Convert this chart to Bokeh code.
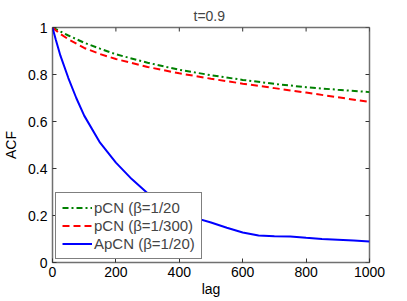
import math
from bokeh.plotting import figure
from bokeh.models import Range1d, FixedTicker
from bokeh.embed import file_html
from bokeh.resources import INLINE

# ---- data ----
lag_pcn = [0, 25, 50, 100, 150, 200, 300, 400, 500, 600, 700, 800, 900, 1000]
acf_pcn_20 = [1.0, 0.983, 0.966, 0.935, 0.91, 0.886, 0.85, 0.82, 0.797, 0.777, 0.76, 0.746, 0.735, 0.725]
acf_pcn_300 = [1.0, 0.972, 0.95, 0.913, 0.887, 0.866, 0.832, 0.805, 0.782, 0.761, 0.742, 0.723, 0.703, 0.683]

lag_apcn = [0, 10, 25, 50, 75, 100, 150, 200, 250, 300, 350, 400, 450, 500,
            550, 600, 650, 700, 750, 800, 850, 900, 950, 1000]
acf_apcn_20 = [1.0, 0.95, 0.88, 0.785, 0.70, 0.625, 0.51, 0.425, 0.355, 0.295, 0.25, 0.215,
               0.19, 0.17, 0.148, 0.128, 0.115, 0.112, 0.111, 0.105, 0.100, 0.097, 0.094, 0.089]

labels = ["pCN (\u03b2=1/20", "pCN (\u03b2=1/300)", "ApCN (\u03b2=1/20)"]
x_ticks = [0, 200, 400, 600, 800, 1000]
y_ticks = [0, 0.2, 0.4, 0.6, 0.8, 1]
y_tick_labels = {0: "0", 0.2: "0.2", 0.4: "0.4", 0.6: "0.6", 0.8: "0.8", 1: "1"}

FONT = "Liberation Sans"
X_MIN, X_MAX = 0, 1000
Y_MIN, Y_MAX = 0, 1

p = figure(frame_width=317, frame_height=235, output_backend="svg", toolbar_location=None,
           x_range=Range1d(X_MIN, X_MAX), y_range=Range1d(Y_MIN, Y_MAX),
           title="t=0.9", x_axis_label="lag", y_axis_label="ACF",
           min_border_left=0, min_border_right=30, min_border_top=27, min_border_bottom=0)

p.title.align = "left"
p.title.offset = 141
p.title.text_font = FONT
p.title.text_font_size = "14px"
p.title.text_font_style = "normal"
p.title.standoff = 7

p.line(lag_pcn, acf_pcn_20, line_color="#008000", line_width=2, line_dash="6 3 2 3",
       legend_label=labels[0])
p.line(lag_pcn, acf_pcn_300, line_color="#ff0000", line_width=2, line_dash="7 4",
       legend_label=labels[1])
p.line(lag_apcn, acf_apcn_20, line_color="#0000ff", line_width=2,
       legend_label=labels[2])

# inward ticks on the top and right edges of the box (MATLAB style)
p.ray(x=x_ticks, y=[Y_MAX] * len(x_ticks), length=4, length_units="screen",
      angle=-math.pi / 2, line_color="#333333", line_width=1)
p.ray(x=[X_MAX] * len(y_ticks), y=y_ticks, length=4, length_units="screen",
      angle=math.pi, line_color="#333333", line_width=1)

p.grid.visible = False
p.outline_line_color = "#707070"
p.outline_line_width = 1.5

p.xaxis.ticker = FixedTicker(ticks=x_ticks)
p.yaxis.ticker = FixedTicker(ticks=y_ticks)

for ax in p.axis:
    ax.axis_line_color = None
    ax.major_tick_in = 4
    ax.major_tick_out = 0
    ax.major_tick_line_color = "#333333"
    ax.minor_tick_line_color = None
    ax.major_label_text_font = FONT
    ax.major_label_text_font_size = "14px"
    ax.major_label_text_color = "black"
    ax.axis_label_text_font = FONT
    ax.axis_label_text_font_size = "14px"
    ax.axis_label_text_font_style = "normal"
    ax.axis_label_text_color = "black"

p.yaxis.major_label_overrides = y_tick_labels
p.xaxis.major_label_standoff = 4
p.xaxis.axis_label_standoff = 1
p.yaxis.major_label_standoff = 5
p.yaxis.axis_label_standoff = 6

lg = p.legend[0]
lg.location = "bottom_left"
lg.margin = 3
lg.padding = 6
lg.spacing = 1
lg.glyph_width = 30
lg.glyph_height = 17
lg.label_standoff = 2
lg.label_text_font = FONT
lg.label_text_font_size = "15px"
lg.border_line_color = "black"
lg.border_line_width = 1
lg.background_fill_alpha = 1.0

open("out.html", "w").write(file_html(p, INLINE))
